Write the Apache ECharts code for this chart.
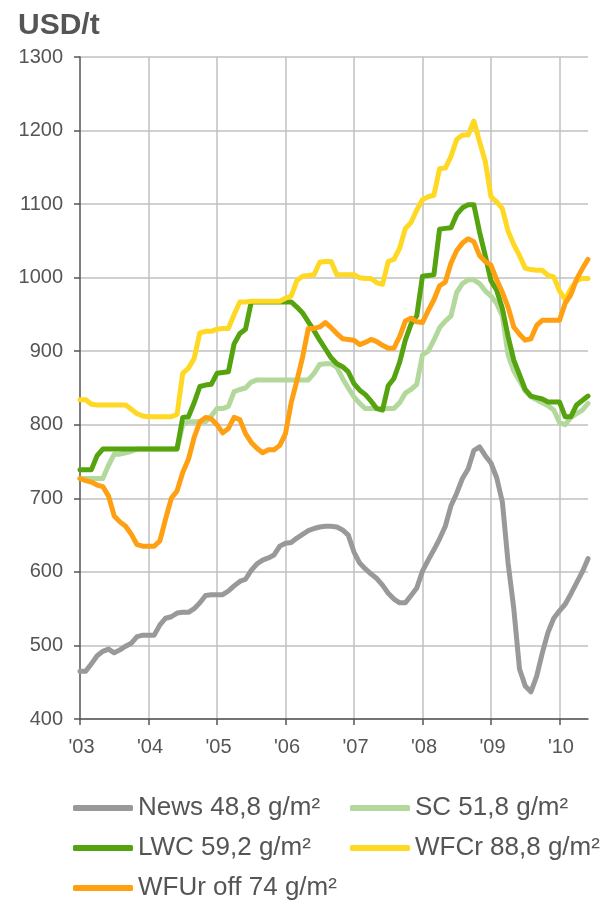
<!DOCTYPE html>
<html>
<head>
<meta charset="utf-8">
<script src="https://cdn.jsdelivr.net/npm/echarts@6/dist/echarts.min.js"></script>
<style>
html,body{margin:0;padding:0;background:#fff;}
#c{width:605px;height:907px;}
</style>
</head>
<body>
<div id="c"></div>
<script>
// Monthly, Jan 2003 .. Jun 2010
const startYear = 2003;
const monthCount = 90;
const yearLabels = ["'03","'04","'05","'06","'07","'08","'09","'10"];

const seriesNames = ["News 48,8 g/m²","SC 51,8 g/m²","LWC 59,2 g/m²","WFCr 88,8 g/m²","WFUr off 74 g/m²"];
const seriesColors = ["#999999","#b3d89b","#55a30f","#ffd823","#ff9f12"];

const news = [465,465,475,486,492,495,490,494,499,503,512,514,514,514,528,537,539,544,545,545,
  550,558,568,569,569,569,574,581,587,590,602,611,616,619,623,635,639,640,646,651,
  656,659,661,662,662,661,657,650,627,612,604,597,591,582,571,563,558,558,568,578,
  601,616,630,645,662,690,707,727,740,765,770,758,748,728,695,612,550,468,445,437,
  458,490,518,537,547,556,570,585,600,618];

const sc = [727,727,727,727,727,745,760,760,762,764,767,767,767,767,767,767,767,767,800,804,
  804,804,804,812,822,822,825,845,848,850,858,861,861,861,861,861,861,861,861,861,
  861,870,882,883,883,878,863,850,838,829,822,822,822,822,822,822,830,843,848,855,
  895,900,915,932,941,948,980,992,997,997,992,982,975,965,948,895,873,860,846,838,
  834,830,826,820,803,800,810,815,820,829];

const lwc = [739,739,739,758,767,767,767,767,767,767,767,767,767,767,767,767,767,767,810,811,
  830,852,854,855,870,871,872,910,924,930,967,967,967,967,967,967,967,967,960,952,
  940,928,915,903,891,883,879,872,856,847,841,832,822,820,853,863,885,915,937,948,
  1002,1003,1004,1066,1067,1068,1086,1095,1099,1099,1062,1030,996,983,958,920,888,868,848,839,
  837,835,831,831,831,811,811,827,833,839];

const wfcr = [834,834,828,827,827,827,827,827,827,821,815,812,811,811,811,811,811,814,870,877,
  890,925,927,927,930,931,931,950,967,967,968,968,968,968,968,968,972,975,996,1002,
  1003,1004,1021,1022,1022,1004,1004,1004,1004,1000,999,999,993,991,1022,1025,1040,1067,1075,1092,
  1106,1110,1112,1148,1149,1165,1188,1194,1194,1213,1185,1158,1110,1103,1094,1063,1045,1030,1013,1011,
  1010,1010,1003,1001,982,970,985,996,999,999];

const wfur = [727,724,722,718,716,703,676,668,662,651,637,635,635,635,642,672,700,710,735,753,
  783,804,810,808,800,789,795,810,807,788,776,768,762,766,766,772,788,830,860,892,
  931,931,933,939,932,924,917,916,915,909,912,916,913,908,904,904,920,941,945,940,
  939,955,970,989,994,1020,1037,1047,1053,1049,1030,1022,1017,997,980,960,933,923,915,917,
  935,942,942,942,942,965,977,998,1012,1025];

const seriesData = [news, sc, lwc, wfcr, wfur];

const months = [];
for (let i = 0; i < monthCount; i++) {
  const y = startYear + Math.floor(i / 12);
  const m = (i % 12) + 1;
  months.push(y + '-' + (m < 10 ? '0' + m : m));
}

const FONT = "'Liberation Sans', Arial, sans-serif";
const TXT = '#555555';
const yearTick = (idx) => idx % 12 === 0;

const legendPos = [
  {left: 73, top: 794},
  {left: 350, top: 794},
  {left: 73, top: 834},
  {left: 350, top: 834},
  {left: 73, top: 874}
];

const chart = echarts.init(document.getElementById('c'), null, {renderer: 'canvas'});
chart.setOption({
  animation: false,
  backgroundColor: '#ffffff',
  textStyle: {fontFamily: FONT},
  title: {
    text: 'USD/t', left: 13, top: 6,
    textStyle: {fontFamily: FONT, fontSize: 30, fontWeight: 'bold', color: TXT}
  },
  grid: {left: 80, right: 17, top: 57, bottom: 188, containLabel: false},
  legend: seriesNames.map((n, i) => ({
    data: [n], left: legendPos[i].left, top: legendPos[i].top, padding: 0,
    itemWidth: 60, itemHeight: 6, icon: 'roundRect', itemGap: 0,
    textStyle: {fontFamily: FONT, fontSize: 26, color: TXT, lineHeight: 28},
    selectedMode: false
  })),
  xAxis: {
    type: 'category', data: months, boundaryGap: false,
    axisLine: {show: true, lineStyle: {color: '#555555', width: 1.5}},
    axisTick: {show: true, interval: (i) => yearTick(i), length: 6, inside: false, lineStyle: {color: '#555555', width: 1.5}},
    axisLabel: {
      interval: (i) => yearTick(i), margin: 18,
      formatter: (v, i) => yearLabels[Math.floor(i / 12)],
      fontFamily: FONT, fontSize: 20, color: TXT, padding: [0, 0, 0, 3]
    },
    splitLine: {show: true, interval: (i) => yearTick(i) && i > 0, lineStyle: {color: '#c0c0c0', width: 1.5}}
  },
  yAxis: {
    type: 'value', min: 400, max: 1300, interval: 100,
    axisLine: {show: true, lineStyle: {color: '#555555', width: 1.5}},
    axisTick: {show: true, length: 6, lineStyle: {color: '#555555', width: 1.5}},
    axisLabel: {margin: 17, fontFamily: FONT, fontSize: 20, color: TXT, formatter: (v) => String(v)},
    splitLine: {show: true, lineStyle: {color: '#c0c0c0', width: 1.5}}
  },
  series: seriesNames.map((n, i) => ({
    name: n, type: 'line', data: seriesData[i], showSymbol: false, symbol: 'none',
    color: seriesColors[i],
    lineStyle: {width: 5, color: seriesColors[i], join: 'round', cap: 'round'},
    z: 2 + i
  }))
});
</script>
</body>
</html>
